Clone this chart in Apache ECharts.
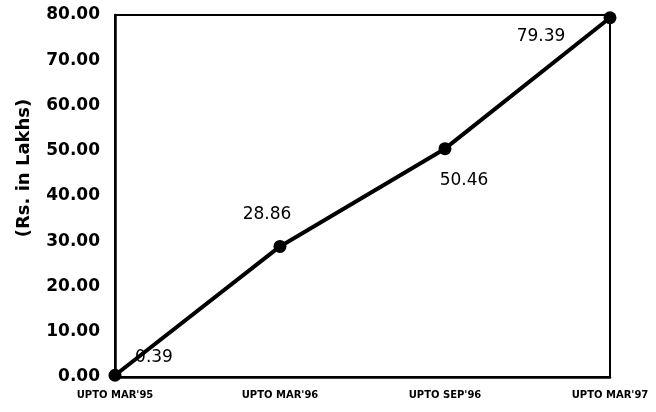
<!DOCTYPE html>
<html>
<head>
<meta charset="utf-8">
<script src="https://cdn.jsdelivr.net/npm/echarts@6/dist/echarts.min.js"></script>
<style>html,body{margin:0;padding:0;background:#fff}#c{width:656px;height:412px}</style>
</head>
<body>
<div id="c"></div>
<script>
const categories = ["UPTO MAR'95", "UPTO MAR'96", "UPTO SEP'96", "UPTO MAR'97"];
const values = [0.39, 28.86, 50.46, 79.39];
const yTickLabels = ['0.00', '10.00', '20.00', '30.00', '40.00', '50.00', '60.00', '70.00', '80.00'];
const yAxisTitle = '(Rs. in Lakhs)';
const labelOffsets = [[39, -18], [-13, -32], [19, 32], [-69, 19]];

const chart = echarts.init(document.getElementById('c'), null, {renderer: 'canvas'});
chart.setOption({
  backgroundColor: '#fff',
  animation: false,
  grid: {left: 115, right: 46, top: 15, bottom: 35, show: true, borderColor: '#000', borderWidth: 2},
  xAxis: {
    type: 'category',
    data: categories,
    boundaryGap: false,
    axisLine: {lineStyle: {color: '#000', width: 2.5}},
    axisTick: {show: false},
    axisLabel: {color: '#000', fontFamily: 'DejaVu Sans', fontWeight: 'bold', fontSize: 10, margin: 13},
    splitLine: {show: false}
  },
  yAxis: {
    type: 'value',
    min: 0, max: 80, interval: 10,
    name: yAxisTitle,
    nameLocation: 'middle',
    nameGap: 82,
    nameTextStyle: {color: '#000', fontFamily: 'DejaVu Sans', fontWeight: 'bold', fontSize: 18, padding: [0, 0, 0, 56]},
    axisLine: {show: true, lineStyle: {color: '#000', width: 2.5}},
    axisTick: {show: false},
    axisLabel: {color: '#000', fontFamily: 'DejaVu Sans', fontWeight: 'bold', fontSize: 17, margin: 15,
      formatter: v => yTickLabels[Math.round(v / 10)]},
    splitLine: {show: false}
  },
  series: [{
    type: 'line',
    data: values.map((v, i) => ({
      value: v,
      label: {offset: labelOffsets[i]}
    })),
    symbol: 'circle',
    symbolSize: 13,
    lineStyle: {color: '#000', width: 4},
    itemStyle: {color: '#000'},
    label: {
      show: true, position: 'inside', color: '#000',
      fontFamily: 'DejaVu Sans', fontSize: 17,
      formatter: p => p.value.toFixed(2)
    }
  }]
});
</script>
</body>
</html>
